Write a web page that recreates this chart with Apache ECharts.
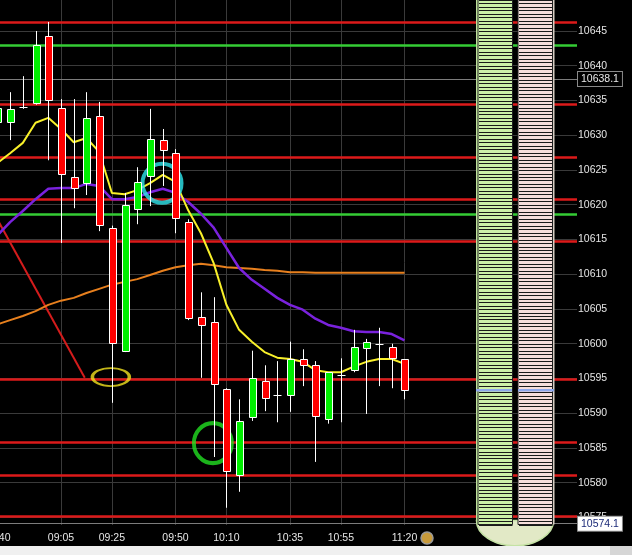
<!DOCTYPE html>
<html><head><meta charset="utf-8">
<script src="https://cdn.jsdelivr.net/npm/echarts@6/dist/echarts.min.js"></script>
<style>
html,body{margin:0;padding:0;background:#000;overflow:hidden}
#c{width:632px;height:546px;background:#000}
#strip{width:632px;height:9px;background:linear-gradient(to right,#f0f0f0 0,#f0f0f0 610px,#d6d6d6 610px)}
</style>
</head><body><div id="c"></div><div id="strip"></div>
<script>
// ---------- DATA ----------
const times = ['08:40','08:45','08:50','08:55','09:00','09:05','09:10','09:15','09:20','09:25','09:30','09:35','09:40','09:45','09:50','09:55','10:00','10:05','10:10','10:15','10:20','10:25','10:30','10:35','10:40','10:45','10:50','10:55','11:00','11:05','11:10','11:15','11:20'];
const opens  = [10631.9,10631.9,10634.1,10634.6,10644.3,10633.9,10624.0,10623.1,10632.8,10616.7,10599.0,10619.4,10624.1,10629.3,10627.4,10617.5,10603.9,10603.1,10593.5,10581.1,10589.5,10594.6,10592.6,10592.6,10597.8,10596.9,10589.2,10595.5,10596.2,10599.4,10600.0,10599.5,10597.8];
const closes = [10633.9,10633.8,10634.1,10643.0,10635.1,10624.4,10622.4,10632.5,10617.1,10600.1,10620.0,10623.3,10629.5,10627.9,10618.1,10603.7,10602.7,10594.2,10581.7,10588.9,10595.1,10592.2,10592.6,10597.8,10596.9,10589.6,10595.9,10595.5,10599.5,10600.3,10600.0,10597.9,10593.3];
const lows   = [10631.0,10629.3,10633.8,10634.4,10626.4,10614.5,10619.5,10621.4,10616.2,10591.5,10598.8,10617.2,10619.8,10622.7,10615.9,10603.4,10595.1,10583.7,10576.4,10578.7,10588.9,10590.3,10588.7,10590.2,10593.9,10583.0,10588.5,10588.7,10595.9,10589.9,10593.9,10593.6,10592.0];
const highs  = [10634.5,10636.2,10638.5,10645.0,10646.3,10635.2,10635.2,10636.2,10634.8,10617.0,10621.7,10625.4,10633.8,10630.9,10628.0,10617.9,10607.4,10606.7,10593.6,10592.0,10599.0,10596.9,10597.5,10600.3,10599.2,10597.5,10595.9,10597.9,10602.0,10600.7,10602.3,10600.0,10597.8];

const maYellow = [10626.0,10627.4,10628.9,10631.8,10632.5,10630.9,10629.0,10629.6,10627.6,10621.7,10621.5,10622.1,10623.1,10624.3,10623.3,10619.2,10615.9,10611.6,10605.6,10602.0,10600.3,10598.8,10598.0,10597.8,10597.4,10596.2,10595.9,10595.9,10596.7,10597.4,10597.8,10597.8,10597.1];
const maPurple = [10615.6,10617.5,10619.1,10620.8,10622.3,10622.4,10622.4,10623.0,10622.7,10620.8,10620.8,10621.1,10621.8,10622.3,10621.7,10620.4,10618.7,10616.7,10613.8,10610.9,10609.2,10607.9,10606.6,10605.6,10604.9,10603.6,10602.7,10602.3,10601.8,10601.7,10601.7,10601.4,10600.5];
const maOrange = [10602.8,10603.4,10604.0,10604.7,10605.6,10606.2,10606.6,10607.3,10607.9,10608.5,10608.9,10609.3,10609.9,10610.5,10611.0,10611.3,10611.5,10611.3,10611.0,10610.9,10610.8,10610.6,10610.5,10610.3,10610.3,10610.2,10610.2,10610.2,10610.2,10610.2,10610.2,10610.2,10610.2];

const trendTimes  = ['08:40','09:14:20'];
const trendValues = [10617.9,10595.1];

const redLevels   = [10646.3,10634.4,10626.9,10620.75,10614.7,10594.9,10585.8,10581.1,10575.2];
const greenLevels = [10642.9,10618.7];

const refLines   = [10638.1,10574.1];   // grey reference lines with tags
const lastPrice  = 10593.3;

const markTimes  = ['09:24:36','09:44:42','10:04:42'];
const markValues = [10595.2,10623.1,10585.7];

const xLabelTimes = ['08:40','09:05','09:25','09:50','10:10','10:35','10:55','11:20'];
const yTicks = [10575,10580,10585,10590,10595,10600,10605,10610,10615,10620,10625,10630,10635,10640,10645];

// ---------- HELPERS ----------
const toMin = s => { const p = s.split(':').map(Number); return p[0]*60 + p[1] + (p[2]||0)/60; };
const pad = n => (n<10?'0':'') + n;
const fmtMin = v => pad(Math.floor(v/60)) + ':' + pad(Math.round(v%60));

const candleData = times.map((t,i)=>[toMin(t), opens[i], closes[i], lows[i], highs[i]]);
const maPairs = arr => times.map((t,i)=>[toMin(t), arr[i]]);

const X_MIN = 509.235, X_MAX = 747.80;
const Y_MIN = 10573.92, Y_MAX = 10649.46;
const FONT = 'Liberation Sans';

function renderCandle(params, api){
  const t = api.value(0), o = api.value(1), c = api.value(2), l = api.value(3), h = api.value(4);
  const pO = api.coord([t,o]), pC = api.coord([t,c]), pL = api.coord([t,l]), pH = api.coord([t,h]);
  const xc = Math.round(pO[0]) + 0.5;
  const children = [{type:'line', shape:{x1:xc,y1:pH[1],x2:xc,y2:pL[1]}, style:{stroke:'#ffffff', lineWidth:1}}];
  if (Math.abs(o-c) < 0.05) {
    children.push({type:'line', shape:{x1:xc-4,y1:Math.round(pO[1])+0.5,x2:xc+4,y2:Math.round(pO[1])+0.5}, style:{stroke:'#ffffff', lineWidth:1}});
  } else {
    const top = Math.round(Math.min(pO[1],pC[1])) + 0.5, bot = Math.round(Math.max(pO[1],pC[1])) + 0.5;
    children.push({type:'rect', shape:{x:xc-3, y:top, width:7, height:bot-top},
      style:{fill: c>o ? '#00ee00' : '#ff0000', stroke:'#ffffff', lineWidth:1}});
  }
  return {type:'group', children};
}

// ladder layout (pixels)
const LAD = {g0:478, g1:512.5, p0:518, p1:552.5, step:0.5, bottom:10574.1};
function renderLadder(params, api){
  const cs = params.coordSys;
  const yTop = cs.y - 2;
  const yBot = Math.round(api.coord([700, LAD.bottom])[1]) + 0.5;
  const stepPx = api.size([0, LAD.step])[1];
  const ch = [];
  ch.push({type:'path', shape:{pathData:`M 476.5 ${yBot-4} A 38 25 0 0 0 553.5 ${yBot-4} Z`},
    style:{fill:'#e2e9c6', stroke:'#c4e2a4', lineWidth:1.5}});
  ch.push({type:'rect', shape:{x:476, y:yTop, width:2.5, height:yBot-yTop}, style:{fill:'#bfe39c'}});
  ch.push({type:'rect', shape:{x:552.5, y:yTop, width:2, height:yBot-yTop}, style:{fill:'#d8cfc4'}});
  ch.push({type:'rect', shape:{x:LAD.g0, y:yTop, width:LAD.g1-LAD.g0, height:yBot-yTop}, style:{fill:'#ccf0a8', stroke:'#202020', lineWidth:1}});
  ch.push({type:'rect', shape:{x:LAD.p0, y:yTop, width:LAD.p1-LAD.p0, height:yBot-yTop}, style:{fill:'#f6dedb', stroke:'#202020', lineWidth:1}});
  for (let y = yBot; y > yTop; y -= stepPx) {
    const yy = Math.round(y) + 0.5;
    ch.push({type:'line', shape:{x1:LAD.g0+1, y1:yy, x2:LAD.g1, y2:yy}, style:{stroke:'#1a1a1a', lineWidth:1}});
    ch.push({type:'line', shape:{x1:LAD.p0+1, y1:yy, x2:LAD.p1, y2:yy}, style:{stroke:'#1a1a1a', lineWidth:1}});
  }
  const yl = api.coord([700, lastPrice])[1];
  ch.push({type:'line', shape:{x1:476, y1:yl, x2:512, y2:yl}, style:{stroke:'#8ea8ec', lineWidth:2.5}});
  ch.push({type:'line', shape:{x1:518, y1:yl, x2:554, y2:yl}, style:{stroke:'#8ea8ec', lineWidth:2.5}});
  return {type:'group', children: ch};
}

const tagLabel = (bg, fg, border) => ({show:true, position:'end', distance:1, backgroundColor:bg, color:fg,
  borderColor:border, borderWidth:1, padding:[2,3,1,3], fontSize:10.5, fontFamily:FONT, formatter: p => String(p.value)});

const levelMarks = [
  ...redLevels.map(v => ({yAxis:v, lineStyle:{color:'#dc1a1a', width:2.5, type:'solid'}})),
  ...greenLevels.map(v => ({yAxis:v, lineStyle:{color:'#35cc35', width:2.5, type:'solid'}})),
  {yAxis:refLines[0], lineStyle:{color:'#7c7c7c', width:1, type:'solid'}, label: tagLabel('#000000','#e8e8e8','#8a8a8a')},
  {yAxis:refLines[1], lineStyle:{color:'#7c7c7c', width:1, type:'solid'}, label: tagLabel('#ffffff','#1b2a78','#8a8a8a')},
  {yAxis:lastPrice, lineStyle:{opacity:0}, label: tagLabel('#ffffc4','#000000','#8a8a8a')}
];

const chart = echarts.init(document.getElementById('c'), null, {renderer:'canvas'});
chart.setOption({
  backgroundColor:'#000000',
  animation:false,
  textStyle:{fontFamily:FONT},
  grid:{left:-30, top:0, width:607, height:525, containLabel:false, outerBoundsMode:'none'},
  xAxis:{type:'value', min:X_MIN, max:X_MAX,
    axisLine:{show:false},
    axisTick:{show:false, customValues: xLabelTimes.map(toMin)},
    axisLabel:{customValues: xLabelTimes.map(toMin), formatter: v => fmtMin(v), color:'#e6e6e6', fontSize:10.5, margin:8, fontFamily:FONT, showMinLabel:true, showMaxLabel:true},
    splitLine:{show:true, lineStyle:{color:'#3a3a3a', width:1}}
  },
  yAxis:{type:'value', position:'right', min:Y_MIN, max:Y_MAX,
    axisLine:{show:false},
    axisTick:{show:false, customValues: yTicks},
    axisLabel:{customValues: yTicks, color:'#e6e6e6', fontSize:10.5, margin:1, fontFamily:FONT, formatter: v => String(v)},
    splitLine:{show:true, lineStyle:{color:'#3a3a3a', width:1}}
  },
  series:[
    {type:'line', name:'trend', z:2, symbol:'none', silent:true,
      data: trendTimes.map((t,i)=>[toMin(t), trendValues[i]]),
      lineStyle:{color:'#d41c1c', width:2},
      markLine:{z:1, silent:true, symbol:['none','none'], label:{show:false}, emphasis:{disabled:true},
        lineStyle:{width:2.5, type:'solid'}, data: levelMarks}
    },
    {type:'line', name:'slow', z:2, symbol:'none', silent:true, data: maPairs(maOrange), lineStyle:{color:'#e8801e', width:2}},
    {type:'line', name:'mid', z:2, symbol:'none', silent:true, data: maPairs(maPurple), lineStyle:{color:'#7a22dd', width:2.5}},
    {type:'line', name:'fast', z:2, symbol:'none', silent:true, data: maPairs(maYellow), lineStyle:{color:'#f8f02a', width:2}},
    {type:'scatter', name:'marks', z:3, silent:true, symbol:'circle',
      data:[
        {value:[toMin(markTimes[0]), markValues[0]], symbolSize:[37,18], itemStyle:{color:'rgba(0,0,0,0)', borderColor:'#f2e21e', borderWidth:2.5}},
        {value:[toMin(markTimes[1]), markValues[1]], symbolSize:[39,39], itemStyle:{color:'rgba(0,0,0,0)', borderColor:'#2ee6ec', borderWidth:4}},
        {value:[toMin(markTimes[2]), markValues[2]], symbolSize:[38,40], itemStyle:{color:'rgba(0,0,0,0)', borderColor:'#22e022', borderWidth:4}}
      ]
    },
    {type:'custom', name:'candles', z:4, silent:true, renderItem: renderCandle,
      dimensions:['t','open','close','low','high'], encode:{x:0, y:[1,2,3,4]}, data: candleData},
    {type:'custom', name:'ladder', z:6, silent:true, clip:false, renderItem: renderLadder,
      encode:{x:0, y:1}, data:[[700, 10600]]}
  ],
  graphic:[
    {type:'circle', shape:{cx:427, cy:538, r:6}, style:{fill:'#c89a3a', stroke:'#9a9a9a', lineWidth:1.5}, z:10}
  ]
});
</script>
</body></html>
